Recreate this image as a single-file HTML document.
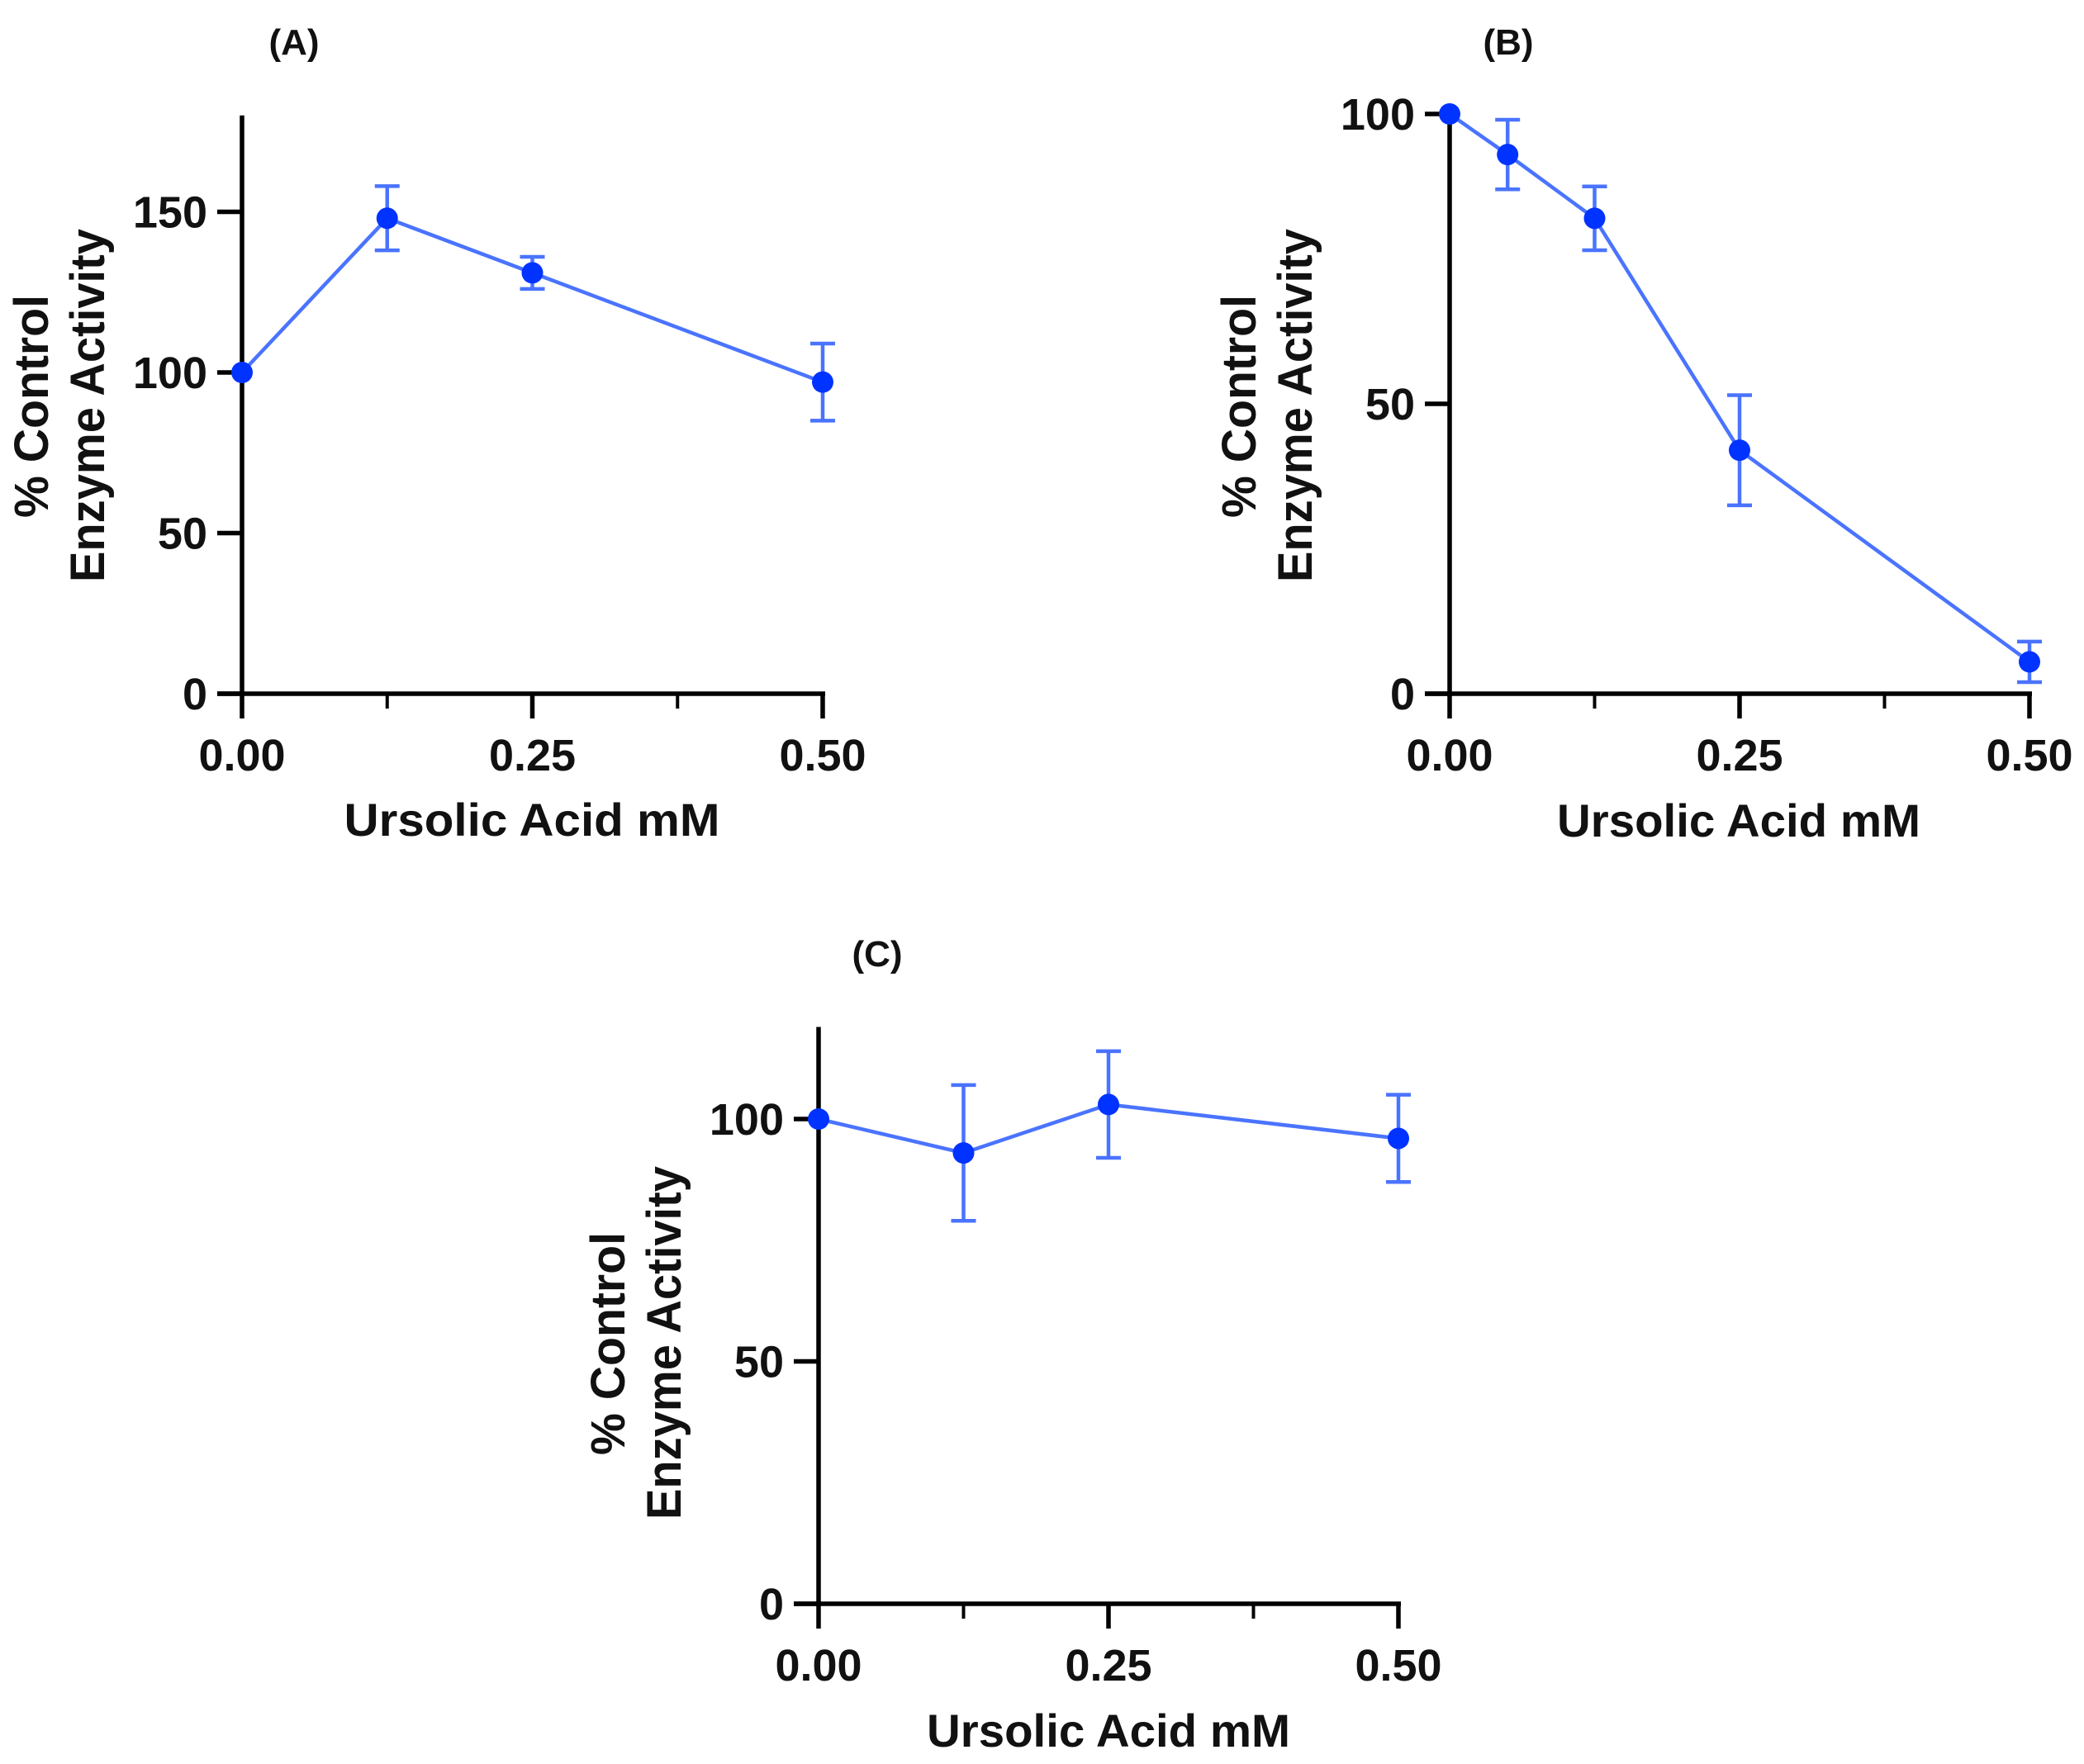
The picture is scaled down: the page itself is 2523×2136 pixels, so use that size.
<!DOCTYPE html>
<html><head><meta charset="utf-8"><style>
html,body{margin:0;padding:0;background:#fff}
svg{display:block}
text{font-family:"Liberation Sans",Arial,sans-serif;font-weight:bold;fill:#111}
</style></head><body>
<svg id="fig" width="2523" height="2136" viewBox="0 0 2523 2136" xmlns="http://www.w3.org/2000/svg"></svg>
<script>
// Panel A data
const aX = [0, 0.125, 0.25, 0.5];
const aY = [100, 148, 131, 97];
const aErr = [0, 10, 5, 12];
// Panel B data
const bX = [0, 0.05, 0.125, 0.25, 0.5];
const bY = [100, 93, 82, 42, 5.5];
const bErr = [0, 6, 5.5, 9.5, 3.5];
// Panel C data
const cX = [0, 0.125, 0.25, 0.5];
const cY = [100, 93, 103, 96];
const cErr = [0, 14, 11, 9];
// Tick labels
const aYTicks = [0, 50, 100, 150];
const bYTicks = [0, 50, 100];
const cYTicks = [0, 50, 100];
const xTickLabels = ["0.00", "0.25", "0.50"];
const xTickVals = [0, 0.25, 0.5];
const xMinor = [0.125, 0.375];

const NS = "http://www.w3.org/2000/svg";
const svg = document.getElementById('fig');
function mk(tag, attrs, parent, txt){
  const e = document.createElementNS(NS, tag);
  for (const k in attrs) e.setAttribute(k, attrs[k]);
  if (txt !== undefined) e.textContent = txt;
  (parent||svg).appendChild(e);
  return e;
}

function panel(cfg){
  const g = mk('g', {});
  
  
  const sx = v => cfg.x0 + (v/0.5)*(cfg.x1 - cfg.x0);
  const sy = v => cfg.y0 - (v/cfg.ymaxTick)*(cfg.y0 - cfg.yTickTop);
  // label
  const lab = mk('text', {x: cfg.labX, y: cfg.labY, 'font-size': 44, 'text-anchor': 'middle', fill: '#333'}, g, '(' + cfg.id.toUpperCase() + ')');
  
  
  // axes
  const ya = mk('line', {x1: cfg.x0, y1: cfg.y0 + 3, x2: cfg.x0, y2: sy(cfg.axisTop), stroke: '#000', 'stroke-width': 5.5}, g);
  
  
  const xa = mk('line', {x1: cfg.x0 - 30, y1: cfg.y0, x2: cfg.x1 + 3, y2: cfg.y0, stroke: '#000', 'stroke-width': 5.5}, g);
  
  
  cfg.yTicks.forEach(t => {
    const y = sy(t);
    const tl = mk('line', {x1: cfg.x0 - 30, y1: y, x2: cfg.x0, y2: y, stroke: '#000', 'stroke-width': 5.5}, g);
    
    
    const tt = mk('text', {x: cfg.x0 - 42, y: y + 19, 'font-size': 54, 'text-anchor': 'end'}, g, String(t));
    
    
  });
  xTickVals.forEach((v, i) => {
    const x = sx(v);
    const tl = mk('line', {x1: x, y1: cfg.y0, x2: x, y2: cfg.y0 + 30, stroke: '#000', 'stroke-width': 5.5}, g);
    
    
    const tt = mk('text', {x: x, y: cfg.y0 + 93, 'font-size': 54, 'text-anchor': 'middle'}, g, xTickLabels[i]);
    
    
  });
  xMinor.forEach(v => {
    const x = sx(v);
    const tl = mk('line', {x1: x, y1: cfg.y0, x2: x, y2: cfg.y0 + 18, stroke: '#000', 'stroke-width': 4}, g);
    
    
  });
  // axis titles
  const xt = mk('text', {x: cfg.xtX, y: cfg.xtY, 'font-size': 56, 'text-anchor': 'middle', textLength: cfg.xtLen, lengthAdjust: 'spacingAndGlyphs'}, g, cfg.xTitle);
  
  
  const y1 = mk('text', {x: 0, y: 0, 'font-size': 58, 'text-anchor': 'middle', textLength: 270, lengthAdjust: 'spacingAndGlyphs', transform: `translate(${cfg.ylX1},${cfg.ylC}) rotate(-90)`}, g, '% Control');
  
  
  const y2 = mk('text', {x: 0, y: 0, 'font-size': 58, 'text-anchor': 'middle', textLength: 428, lengthAdjust: 'spacingAndGlyphs', transform: `translate(${cfg.ylX2},${cfg.ylC2}) rotate(-90)`}, g, 'Enzyme Activity');
  
  
  // series line
  const pts = cfg.xs.map((v, i) => sx(v) + ',' + sy(cfg.ys[i])).join(' ');
  const pl = mk('polyline', {points: pts, fill: 'none', stroke: '#4a73ff', 'stroke-width': 4.5}, g);
  
  
  cfg.xs.forEach((v, i) => {
    const x = sx(v);
    if (cfg.err[i] > 0) {
      const top = sy(cfg.ys[i] + cfg.err[i]), bot = sy(cfg.ys[i] - cfg.err[i]);
      const eb = mk('path', {d: `M${x},${top}V${bot}M${x-15},${top}H${x+15}M${x-15},${bot}H${x+15}`, stroke: '#4a73ff', 'stroke-width': 4.5, fill: 'none'}, g);
      
      
    }
    const c = mk('circle', {cx: x, cy: sy(cfg.ys[i]), r: 13, fill: '#0033ff'}, g);
    
    
  });
}

panel({id: 'a', x0: 293, x1: 996, y0: 840, yTickTop: 451, ymaxTick: 100, axisTop: 180,
  yTicks: aYTicks, xs: aX, ys: aY, err: aErr, labX: 356, labY: 66,
  xTitle: 'Ursolic Acid  mM', xtX: 644, xtY: 1012, xtLen: 455,
  ylX1: 58, ylX2: 126, ylC: 492, ylC2: 491});
panel({id: 'b', x0: 1755, x1: 2457, y0: 840, yTickTop: 138, ymaxTick: 100, axisTop: 100,
  yTicks: bYTicks, xs: bX, ys: bY, err: bErr, labX: 1826, labY: 66,
  xTitle: 'Ursolic Acid mM', xtX: 2105, xtY: 1013, xtLen: 440,
  ylX1: 1520, ylX2: 1588, ylC: 492, ylC2: 491});
panel({id: 'c', x0: 991, x1: 1693, y0: 1942, yTickTop: 1355, ymaxTick: 100, axisTop: 119,
  yTicks: cYTicks, xs: cX, ys: cY, err: cErr, labX: 1062, labY: 1170,
  xTitle: 'Ursolic Acid mM', xtX: 1342, xtY: 2115, xtLen: 440,
  ylX1: 756, ylX2: 824, ylC: 1627, ylC2: 1626});
</script>
</body></html>
